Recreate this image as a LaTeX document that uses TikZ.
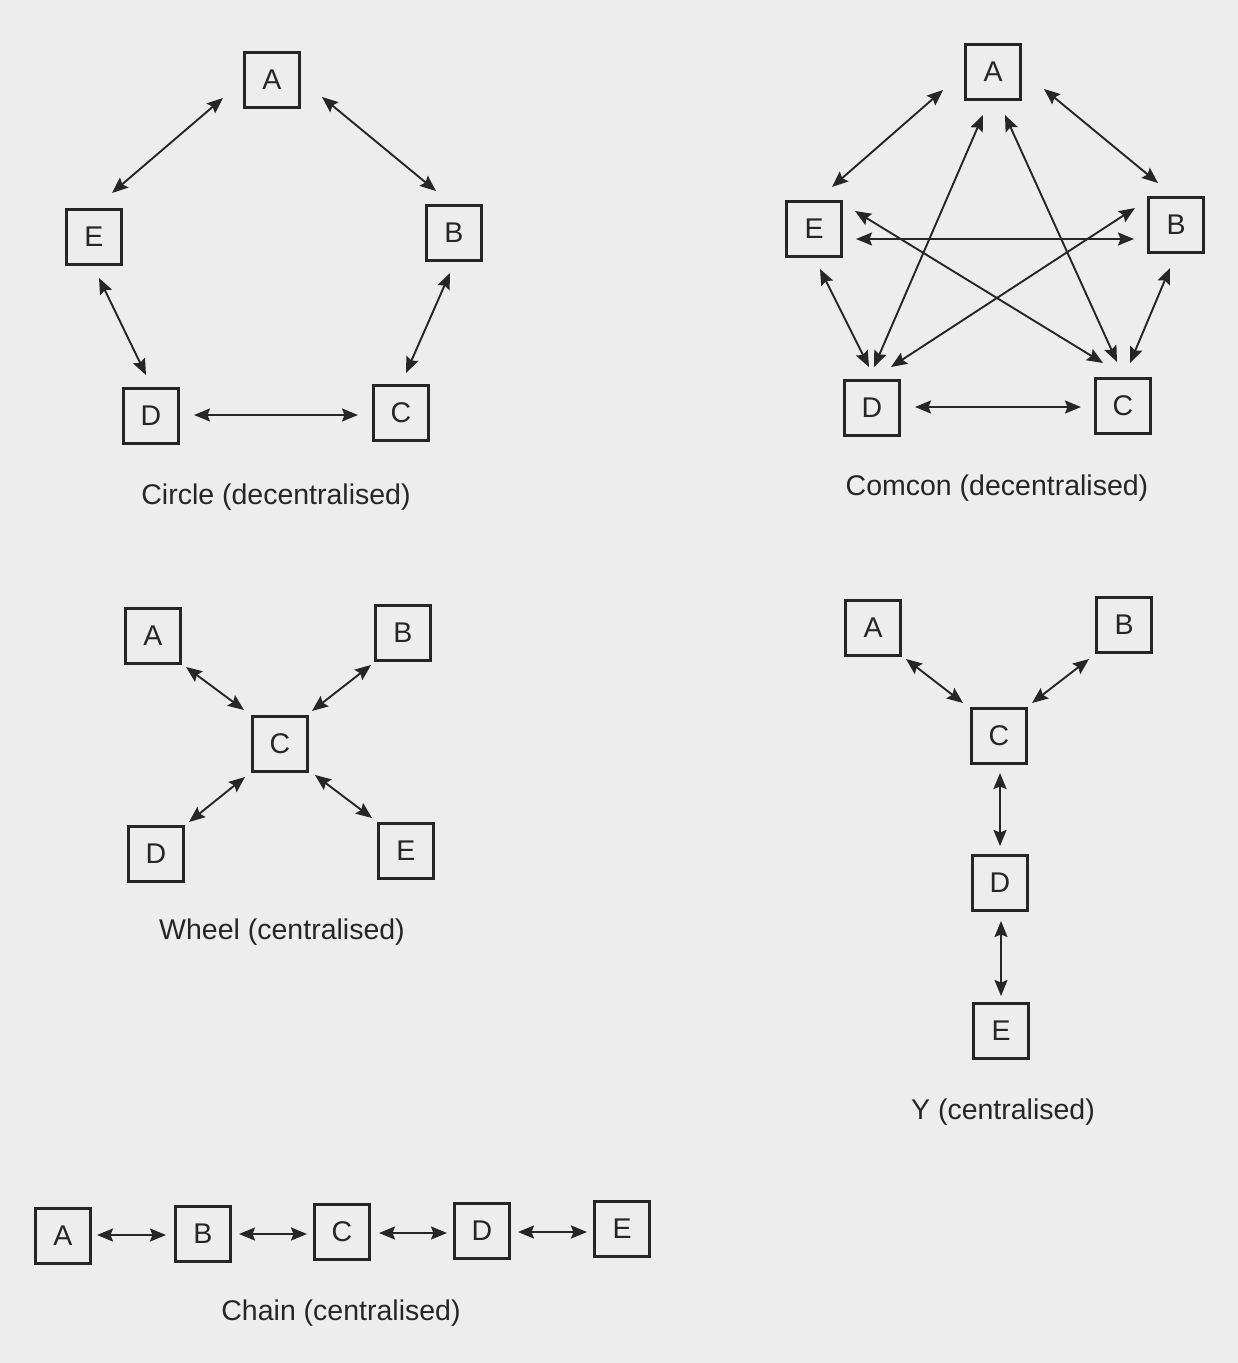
\documentclass[tikz,border=0pt]{standalone}
\usepackage{fontspec}
\setmainfont{Liberation Sans}
\usetikzlibrary{arrows.meta,calc}
\definecolor{paper}{RGB}{237,237,237}
\definecolor{ink}{RGB}{38,38,38}
\begin{document}
\begin{tikzpicture}[x=1pt,y=-1pt,
  box/.style={draw=ink,line width=2.2pt,minimum width=55pt,minimum height=55pt,inner sep=0pt,text=ink,font=\fontsize{28.5}{30}\selectfont},
  lbl/.style={text=ink,font=\fontsize{28.5}{32}\selectfont,inner sep=0pt},
  link/.style={draw=ink,line width=1.9pt,{Stealth[length=16pt,width=13pt,inset=2.5pt]}-{Stealth[length=16pt,width=13pt,inset=2.5pt]}}]
\fill[paper] (0,0) rectangle (1238,1363);
\useasboundingbox (0,0) rectangle (1238,1363);

% ---------- Circle ----------
\node[box] (cA) at (272,80) {A};
\node[box] (cE) at (94,237) {E};
\node[box] (cB) at (454,233) {B};
\node[box] (cD) at (151,416) {D};
\node[box] (cC) at (401,413) {C};
\draw[link] ($(cA)+(-49,18)$) -- ($(cE)+(18,-44)$);
\draw[link] ($(cA)+(50,17)$) -- ($(cB)+(-18,-42)$);
\draw[link] ($(cE)+(5,41)$) -- ($(cD)+(-5,-41)$);
\draw[link] ($(cB)+(-4,40)$) -- ($(cC)+(5,-40)$);
\draw[link] ($(cD)+(43,-1)$) -- ($(cC)+(-43,2)$);
\node[lbl] (cL) at (276,497) {Circle (decentralised)};

% ---------- Comcon ----------
\node[box] (mA) at (993,72) {A};
\node[box] (mE) at (814,229) {E};
\node[box] (mB) at (1176,225) {B};
\node[box] (mD) at (872,408) {D};
\node[box] (mC) at (1123,406) {C};
\draw[link] ($(mA)+(-50,18)$) -- ($(mE)+(18,-42)$);
\draw[link] ($(mA)+(51,17)$) -- ($(mB)+(-18,-42)$);
\draw[link] ($(mA)+(-10,43)$) -- ($(mD)+(2,-41)$);
\draw[link] ($(mA)+(12,43)$) -- ($(mC)+(-6,-44)$);
\draw[link] ($(mE)+(42,10)$) -- ($(mB)+(-42,14)$);
\draw[link] ($(mE)+(41,-18)$) -- ($(mC)+(-20,-43)$);
\draw[link] ($(mB)+(-41,-17)$) -- ($(mD)+(19,-41)$);
\draw[link] ($(mE)+(6,40)$) -- ($(mD)+(-3,-41)$);
\draw[link] ($(mB)+(-6,43)$) -- ($(mC)+(7,-43)$);
\draw[link] ($(mD)+(43,-1)$) -- ($(mC)+(-42,1)$);
\node[lbl] (mL) at (997,488) {Comcon (decentralised)};

% ---------- Wheel ----------
\node[box] (wA) at (153,636) {A};
\node[box] (wB) at (403,633) {B};
\node[box] (wC) at (280,744) {C};
\node[box] (wD) at (156,854) {D};
\node[box] (wE) at (406,851) {E};
\draw[link] ($(wA)+(33,31)$) -- ($(wC)+(-36,-34)$);
\draw[link] ($(wB)+(-32,32)$) -- ($(wC)+(32,-33)$);
\draw[link] ($(wD)+(33,-32)$) -- ($(wC)+(-35,33)$);
\draw[link] ($(wE)+(-34,-33)$) -- ($(wC)+(35,31)$);
\node[lbl] (wL) at (282,932) {Wheel (centralised)};

% ---------- Y ----------
\node[box] (yA) at (873,628) {A};
\node[box] (yB) at (1124,625) {B};
\node[box] (yC) at (999,736) {C};
\node[box] (yD) at (1000,883) {D};
\node[box] (yE) at (1001,1031) {E};
\draw[link] ($(yA)+(33,31)$) -- ($(yC)+(-36,-33)$);
\draw[link] ($(yB)+(-35,34)$) -- ($(yC)+(33,-33)$);
\draw[link] ($(yC)+(1,37)$) -- ($(yD)+(0,-37)$);
\draw[link] ($(yD)+(1,38)$) -- ($(yE)+(0,-35)$);
\node[lbl] (yL) at (1003,1112) {Y (centralised)};

% ---------- Chain ----------
\node[box] (hA) at (63,1236) {A};
\node[box] (hB) at (203,1234) {B};
\node[box] (hC) at (342,1232) {C};
\node[box] (hD) at (482,1231) {D};
\node[box] (hE) at (622,1229) {E};
\draw[link] ($(hA)+(34,-1)$) -- ($(hB)+(-37,1)$);
\draw[link] ($(hB)+(36,0)$) -- ($(hC)+(-35,2)$);
\draw[link] ($(hC)+(37,1)$) -- ($(hD)+(-35,2)$);
\draw[link] ($(hD)+(36,1)$) -- ($(hE)+(-35,3)$);
\node[lbl] (hL) at (341,1313) {Chain (centralised)};
\end{tikzpicture}
\end{document}
